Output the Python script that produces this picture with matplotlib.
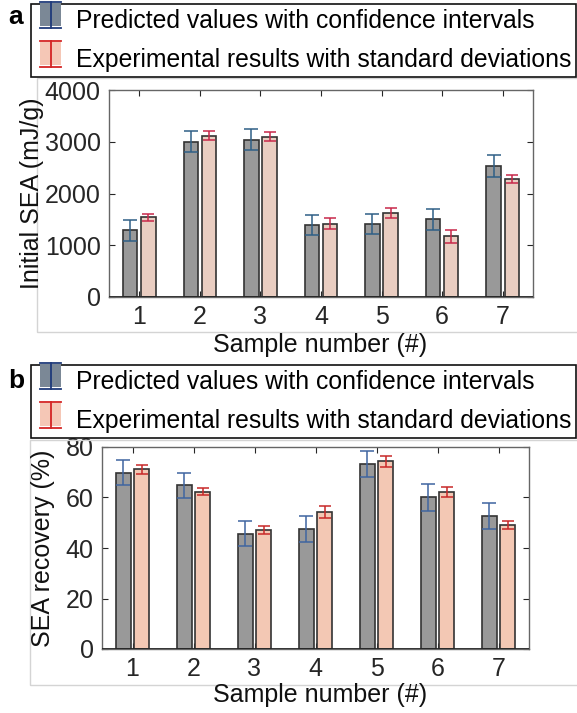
import matplotlib
matplotlib.use("Agg")
import matplotlib.pyplot as plt
import numpy as np
from matplotlib.patches import Rectangle
from matplotlib.lines import Line2D

plt.rcParams['font.family'] = ['Liberation Sans', 'DejaVu Sans']

samples = [1, 2, 3, 4, 5, 6, 7]
sample_labels = ['1', '2', '3', '4', '5', '6', '7']

sea_pred = [1290, 3000, 3040, 1390, 1410, 1500, 2530]
sea_pred_err = [200, 200, 200, 200, 200, 205, 205]
sea_exp = [1540, 3120, 3100, 1420, 1620, 1170, 2280]
sea_exp_err = [70, 95, 85, 115, 100, 120, 80]

rec_pred = [69.9, 64.8, 45.7, 47.5, 73.2, 60.0, 52.6]
rec_pred_err = [5.0, 5.0, 5.0, 5.2, 5.2, 5.2, 5.1]
rec_exp = [71.1, 62.3, 47.2, 54.3, 74.3, 62.2, 49.0]
rec_exp_err = [1.6, 1.3, 1.5, 2.5, 2.2, 2.0, 1.5]

legend_labels = ['Predicted values with confidence intervals',
                 'Experimental results with standard deviations']

W, H = 577, 713
fig = plt.figure(figsize=(W / 100, H / 100), dpi=100)

FS = 18
LFS = 17.8


def fx(px):
    return px / W


def fy(py):
    return 1 - py / H


# light panel frames
for (x0, y0, x1, y1) in [(37, 78, 600, 332), (30, 440, 600, 685)]:
    fig.patches.append(Rectangle((fx(x0), fy(y1)), fx(x1) - fx(x0), fy(y0) - fy(y1),
                                 transform=fig.transFigure, fill=False,
                                 edgecolor='#d4d4d4', linewidth=1.0, zorder=0))


class IconHandler:
    def __init__(self, face, ecol):
        self.face = face
        self.ecol = ecol

    def legend_artist(self, legend, orig_handle, fontsize, handlebox):
        x0, y0 = handlebox.xdescent, handlebox.ydescent
        w, h = handlebox.width, handlebox.height
        cx = x0 + w / 2
        pw = w * 0.7
        rect = Rectangle((cx - pw / 2, y0 - h * 0.02), pw, h * 1.04,
                         facecolor=self.face, edgecolor='none',
                         transform=handlebox.get_transform())
        handlebox.add_artist(rect)
        top = y0 + h * 1.08
        bot = y0 - h * 0.08
        cw = w * 0.35
        for seg in [([cx, cx], [bot, top]), ([cx - cw, cx + cw], [top, top]),
                    ([cx - cw, cx + cw], [bot, bot])]:
            ln = Line2D(seg[0], seg[1], color=self.ecol, linewidth=1.3,
                        transform=handlebox.get_transform())
            handlebox.add_artist(ln)
        return rect


def panel(ax_rect, pred, pred_err, exp, exp_err, ylim, yticks, ylabel,
          blue, red, pink, legend_y, letter, letter_y, xlabel_y, ylabel_x):
    ax = fig.add_axes(ax_rect)
    x = np.array(samples, dtype=float)
    off = 0.15
    bw = 0.24
    ax.bar(x - off, pred, width=bw, color='#999999', edgecolor='#333333',
           linewidth=1.2, zorder=2)
    ax.bar(x + off, exp, width=bw, color=pink, edgecolor='#333333',
           linewidth=1.2, zorder=2)
    ax.errorbar(x - off, pred, yerr=pred_err, fmt='none', ecolor=blue,
                elinewidth=1.1, capsize=5, capthick=1.1, zorder=3)
    ax.errorbar(x + off, exp, yerr=exp_err, fmt='none', ecolor=red,
                elinewidth=1.1, capsize=4, capthick=1.1, zorder=3)
    ax.axhline(0, color='#262626', linewidth=1.3, zorder=4)
    ax.set_xlim(0.5, 7.5)
    ax.set_ylim(*ylim)
    ax.set_yticks(yticks)
    ax.set_xticks(samples)
    ax.set_xticklabels(sample_labels)
    ax.tick_params(direction='in', top=True, right=True, labelsize=FS,
                   colors='#262626', length=4, width=0.8, pad=6)
    for s in ax.spines.values():
        s.set_color('#666666')
        s.set_linewidth(1.0)
    fig.text(ylabel_x, (ax_rect[1] + ax_rect[1] + ax_rect[3]) / 2, ylabel,
             rotation=90, ha='center', va='center', fontsize=FS, color='#111111')
    fig.text(0.555, xlabel_y, 'Sample number (#)', ha='center', va='center',
             fontsize=FS, color='#111111')

    h1 = Rectangle((0, 0), 1, 1)
    h2 = Rectangle((0, 0), 1, 1)
    leg = fig.legend([h1, h2], legend_labels,
                     handler_map={h1: IconHandler('#7b8896', '#1f3a7a'),
                                  h2: IconHandler('#f5c7b6', '#d42424')},
                     loc='upper left', bbox_to_anchor=(fx(31), legend_y),
                     bbox_transform=fig.transFigure, fontsize=LFS,
                     frameon=True, fancybox=False, edgecolor='#111111',
                     framealpha=1, borderpad=0.2, labelspacing=0.58,
                     handlelength=1.2, handleheight=1.0, handletextpad=0.4,
                     borderaxespad=0)
    leg.get_frame().set_linewidth(1.2)
    fig.text(fx(16), letter_y, letter, fontsize=FS + 1, fontweight='bold',
             ha='center', va='center')
    return ax


panel([fx(109), fy(297), fx(533) - fx(109), fy(90) - fy(297)],
      sea_pred, sea_pred_err, sea_exp, sea_exp_err,
      (0, 4000), [0, 1000, 2000, 3000, 4000], 'Initial SEA (mJ/g)',
      '#2f5f86', '#c8284a', '#e9cdc1', fy(4), 'a', fy(17), fy(345), fx(32))

panel([fx(102), fy(649), fx(529) - fx(102), fy(447) - fy(649)],
      rec_pred, rec_pred_err, rec_exp, rec_exp_err,
      (0, 80), [0, 20, 40, 60, 80], 'SEA recovery (%)',
      '#3f65a0', '#c82828', '#f3c8b4', fy(365), 'b', fy(381), fy(695), fx(43))

fig.savefig('out.png', dpi=100)
